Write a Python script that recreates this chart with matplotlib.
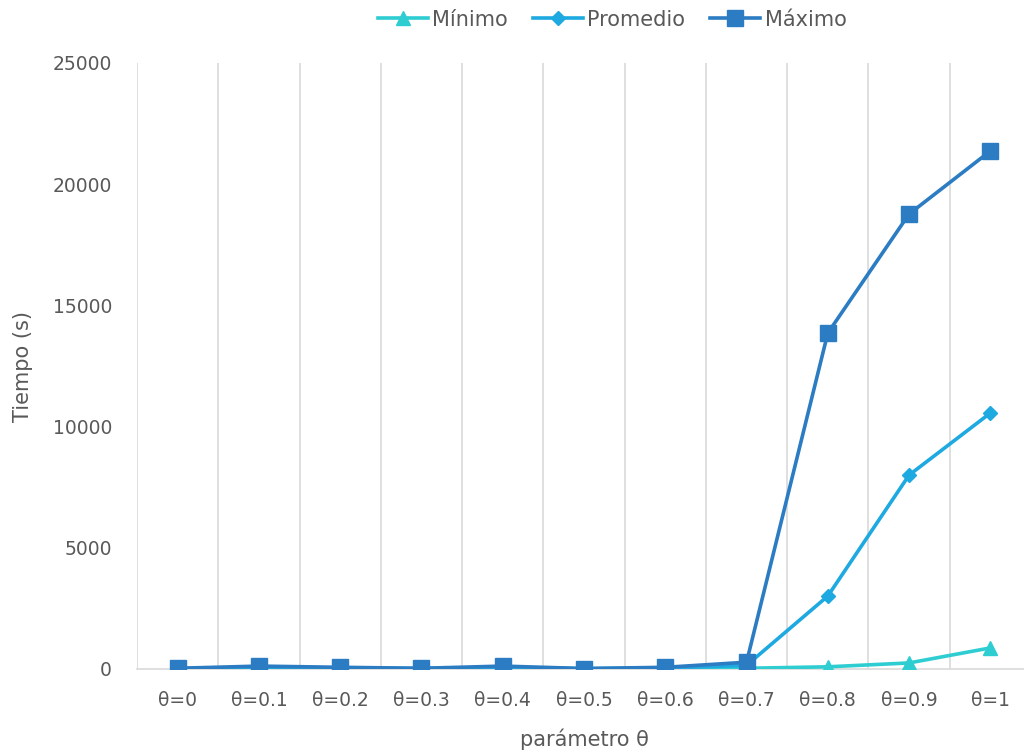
import matplotlib
matplotlib.use("Agg")
import matplotlib.pyplot as plt
from matplotlib.ticker import MultipleLocator

plt.rcParams['font.family'] = ['DejaVu Sans']

categories = ["θ=0", "θ=0.1", "θ=0.2", "θ=0.3", "θ=0.4", "θ=0.5",
              "θ=0.6", "θ=0.7", "θ=0.8", "θ=0.9", "θ=1"]
minimo = [5, 10, 8, 6, 10, 5, 8, 30, 90, 250, 870]
promedio = [20, 60, 40, 20, 60, 15, 40, 150, 3010, 8000, 10560]
maximo = [30, 120, 70, 30, 120, 20, 70, 280, 13860, 18770, 21370]

text_color = "#595959"
grid_color = "#d9d9d9"

fig = plt.figure(figsize=(10.24, 7.52), dpi=100)
ax = fig.add_axes([137 / 1024, 83 / 752, 894 / 1024, 606 / 752])

x = list(range(len(categories)))
ax.plot(x, minimo, color="#2ecdd2", lw=2.6, marker="^", ms=10,
        label="Mínimo", zorder=3)
ax.plot(x, promedio, color="#1ea9e1", lw=2.6, marker="D", ms=7,
        label="Promedio", zorder=4)
ax.plot(x, maximo, color="#2b7cc2", lw=2.6, marker="s", ms=11,
        label="Máximo", zorder=5)

ax.set_xlim(-0.5, len(categories) - 0.5)
ax.set_ylim(0, 25000)
ax.yaxis.set_major_locator(MultipleLocator(5000))
ax.set_xticks(x)
ax.set_xticklabels(categories)

# vertical separators between categories
for b in range(0, len(categories)):
    ax.axvline(b - 0.5, color=grid_color, lw=1.2, zorder=0)

for s in ["top", "right", "left"]:
    ax.spines[s].set_visible(False)
ax.spines["bottom"].set_color(grid_color)
ax.spines["bottom"].set_linewidth(1.2)

ax.tick_params(axis="both", length=0, colors=text_color, labelsize=13.5)
ax.tick_params(axis="x", pad=16)
ax.tick_params(axis="y", pad=18)

ax.set_xlabel("parámetro θ", fontsize=15, color=text_color, labelpad=13)
ax.set_ylabel("Tiempo (s)", fontsize=15, color=text_color, labelpad=14)

leg = fig.legend(loc="upper center", bbox_to_anchor=(0.598, 1.012), ncol=3,
                 frameon=False, fontsize=15, handlelength=2.4,
                 columnspacing=1.2, handletextpad=0.2)
for t in leg.get_texts():
    t.set_color(text_color)

fig.savefig("out.png", dpi=100)
